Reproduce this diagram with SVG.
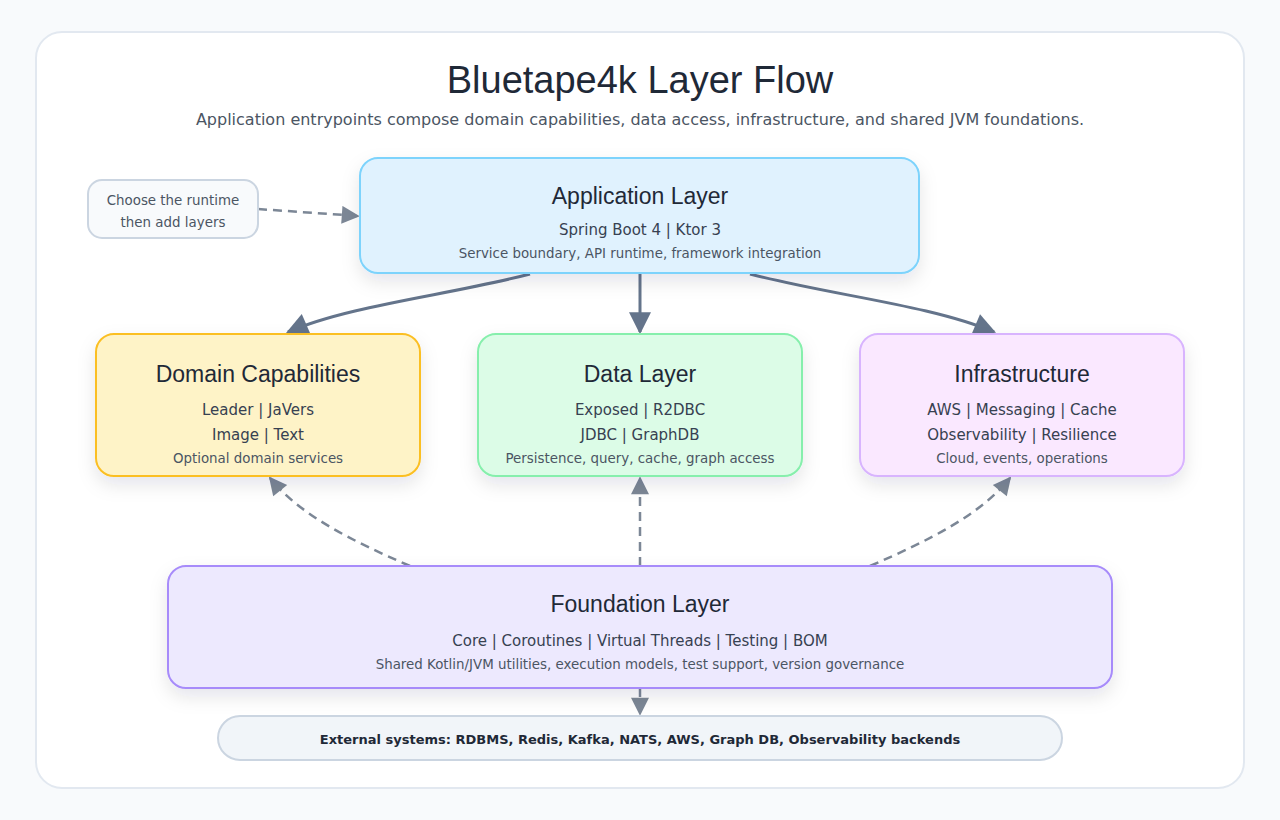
<svg xmlns="http://www.w3.org/2000/svg" width="1280" height="820" viewBox="0 0 1280 820">
<defs>
<filter id="sh" x="-20%" y="-20%" width="140%" height="160%"><feDropShadow dx="0" dy="8" stdDeviation="9" flood-color="#0f172a" flood-opacity="0.10"/></filter>
<marker id="ab" viewBox="0 0 10 10" refX="9" refY="5" markerWidth="24" markerHeight="22" markerUnits="userSpaceOnUse" orient="auto"><path d="M0,0 L10,5 L0,10 z" fill="#64748b"/></marker>
<marker id="ad" viewBox="0 0 10 10" refX="9" refY="5" markerWidth="20" markerHeight="18" markerUnits="userSpaceOnUse" orient="auto"><path d="M0,0 L10,5 L0,10 z" fill="#7c8796"/></marker>
</defs>
<style>
.t{font-family:"Liberation Sans","DejaVu Sans",sans-serif;font-size:23px;fill:#1f2937;text-anchor:middle}
.s{font-family:"DejaVu Sans",sans-serif;font-size:15px;fill:#374151;text-anchor:middle}
.d{font-family:"DejaVu Sans",sans-serif;font-size:13.4px;fill:#4b5563;text-anchor:middle}
.solid{fill:none;stroke:#64748b;stroke-width:3;marker-end:url(#ab)}
.dash{fill:none;stroke:#7c8796;stroke-width:2.5;stroke-dasharray:9 6;marker-end:url(#ad)}
</style>
<rect width="1280" height="820" fill="#f8fafc"/>
<rect x="36" y="32" width="1208" height="756" rx="26" fill="#ffffff" stroke="#e2e8f0" stroke-width="2"/>
<text x="640" y="93" font-family="Liberation Sans,sans-serif" font-size="38" fill="#1f2937" text-anchor="middle">Bluetape4k Layer Flow</text>
<text x="640" y="125" font-family="DejaVu Sans,sans-serif" font-size="16" fill="#4b5563" text-anchor="middle">Application entrypoints compose domain capabilities, data access, infrastructure, and shared JVM foundations.</text>

<g id="connectors">
<path class="dash" d="M258,209 L358,216"/>
<path class="solid" d="M530,274 C450,295 350,305 288,332"/>
<path class="solid" d="M640,274 L640,332"/>
<path class="solid" d="M750,274 C830,295 930,305 994,332"/>
<path class="dash" d="M410,566 C350,540 300,515 270,478"/>
<path class="dash" d="M640,566 L640,478"/>
<path class="dash" d="M870,566 C930,540 980,515 1010,478"/>
<path class="dash" d="M640,688 L640,714" stroke-dasharray="none"/>
</g>

<g id="hint"><rect x="88" y="180" width="170" height="58" rx="14" fill="#f8fafc" stroke="#cbd5e1" stroke-width="2"/>
<text class="d" x="173" y="205">Choose the runtime</text><text class="d" x="173" y="227">then add layers</text></g>

<g id="app"><rect x="360" y="158" width="559" height="115" rx="18" fill="#e0f2fe" stroke="#7dd3fc" stroke-width="2" filter="url(#sh)"/>
<text class="t" x="640" y="204">Application Layer</text>
<text class="s" x="640" y="235">Spring Boot 4 | Ktor 3</text>
<text class="d" x="640" y="258">Service boundary, API runtime, framework integration</text></g>

<g id="domain"><rect x="96" y="334" width="324" height="142" rx="18" fill="#fef3c7" stroke="#fbbf24" stroke-width="2" filter="url(#sh)"/>
<text class="t" x="258" y="382">Domain Capabilities</text>
<text class="s" x="258" y="415">Leader | JaVers</text>
<text class="s" x="258" y="440">Image | Text</text>
<text class="d" x="258" y="463">Optional domain services</text></g>

<g id="data"><rect x="478" y="334" width="324" height="142" rx="18" fill="#dcfce7" stroke="#86efac" stroke-width="2" filter="url(#sh)"/>
<text class="t" x="640" y="382">Data Layer</text>
<text class="s" x="640" y="415">Exposed | R2DBC</text>
<text class="s" x="640" y="440">JDBC | GraphDB</text>
<text class="d" x="640" y="463">Persistence, query, cache, graph access</text></g>

<g id="infra"><rect x="860" y="334" width="324" height="142" rx="18" fill="#fae8ff" stroke="#d8b4fe" stroke-width="2" filter="url(#sh)"/>
<text class="t" x="1022" y="382">Infrastructure</text>
<text class="s" x="1022" y="415">AWS | Messaging | Cache</text>
<text class="s" x="1022" y="440">Observability | Resilience</text>
<text class="d" x="1022" y="463">Cloud, events, operations</text></g>

<g id="foundation"><rect x="168" y="566" width="944" height="122" rx="18" fill="#ede9fe" stroke="#a78bfa" stroke-width="2" filter="url(#sh)"/>
<text class="t" x="640" y="612">Foundation Layer</text>
<text class="s" x="640" y="646">Core | Coroutines | Virtual Threads | Testing | BOM</text>
<text class="d" x="640" y="669">Shared Kotlin/JVM utilities, execution models, test support, version governance</text></g>

<g id="external"><rect x="218" y="716" width="844" height="44" rx="22" fill="#f1f5f9" stroke="#cbd5e1" stroke-width="2"/>
<text x="640" y="744" font-family="DejaVu Sans,sans-serif" font-size="13" font-weight="bold" fill="#1f2937" text-anchor="middle">External systems: RDBMS, Redis, Kafka, NATS, AWS, Graph DB, Observability backends</text></g>
</svg>
